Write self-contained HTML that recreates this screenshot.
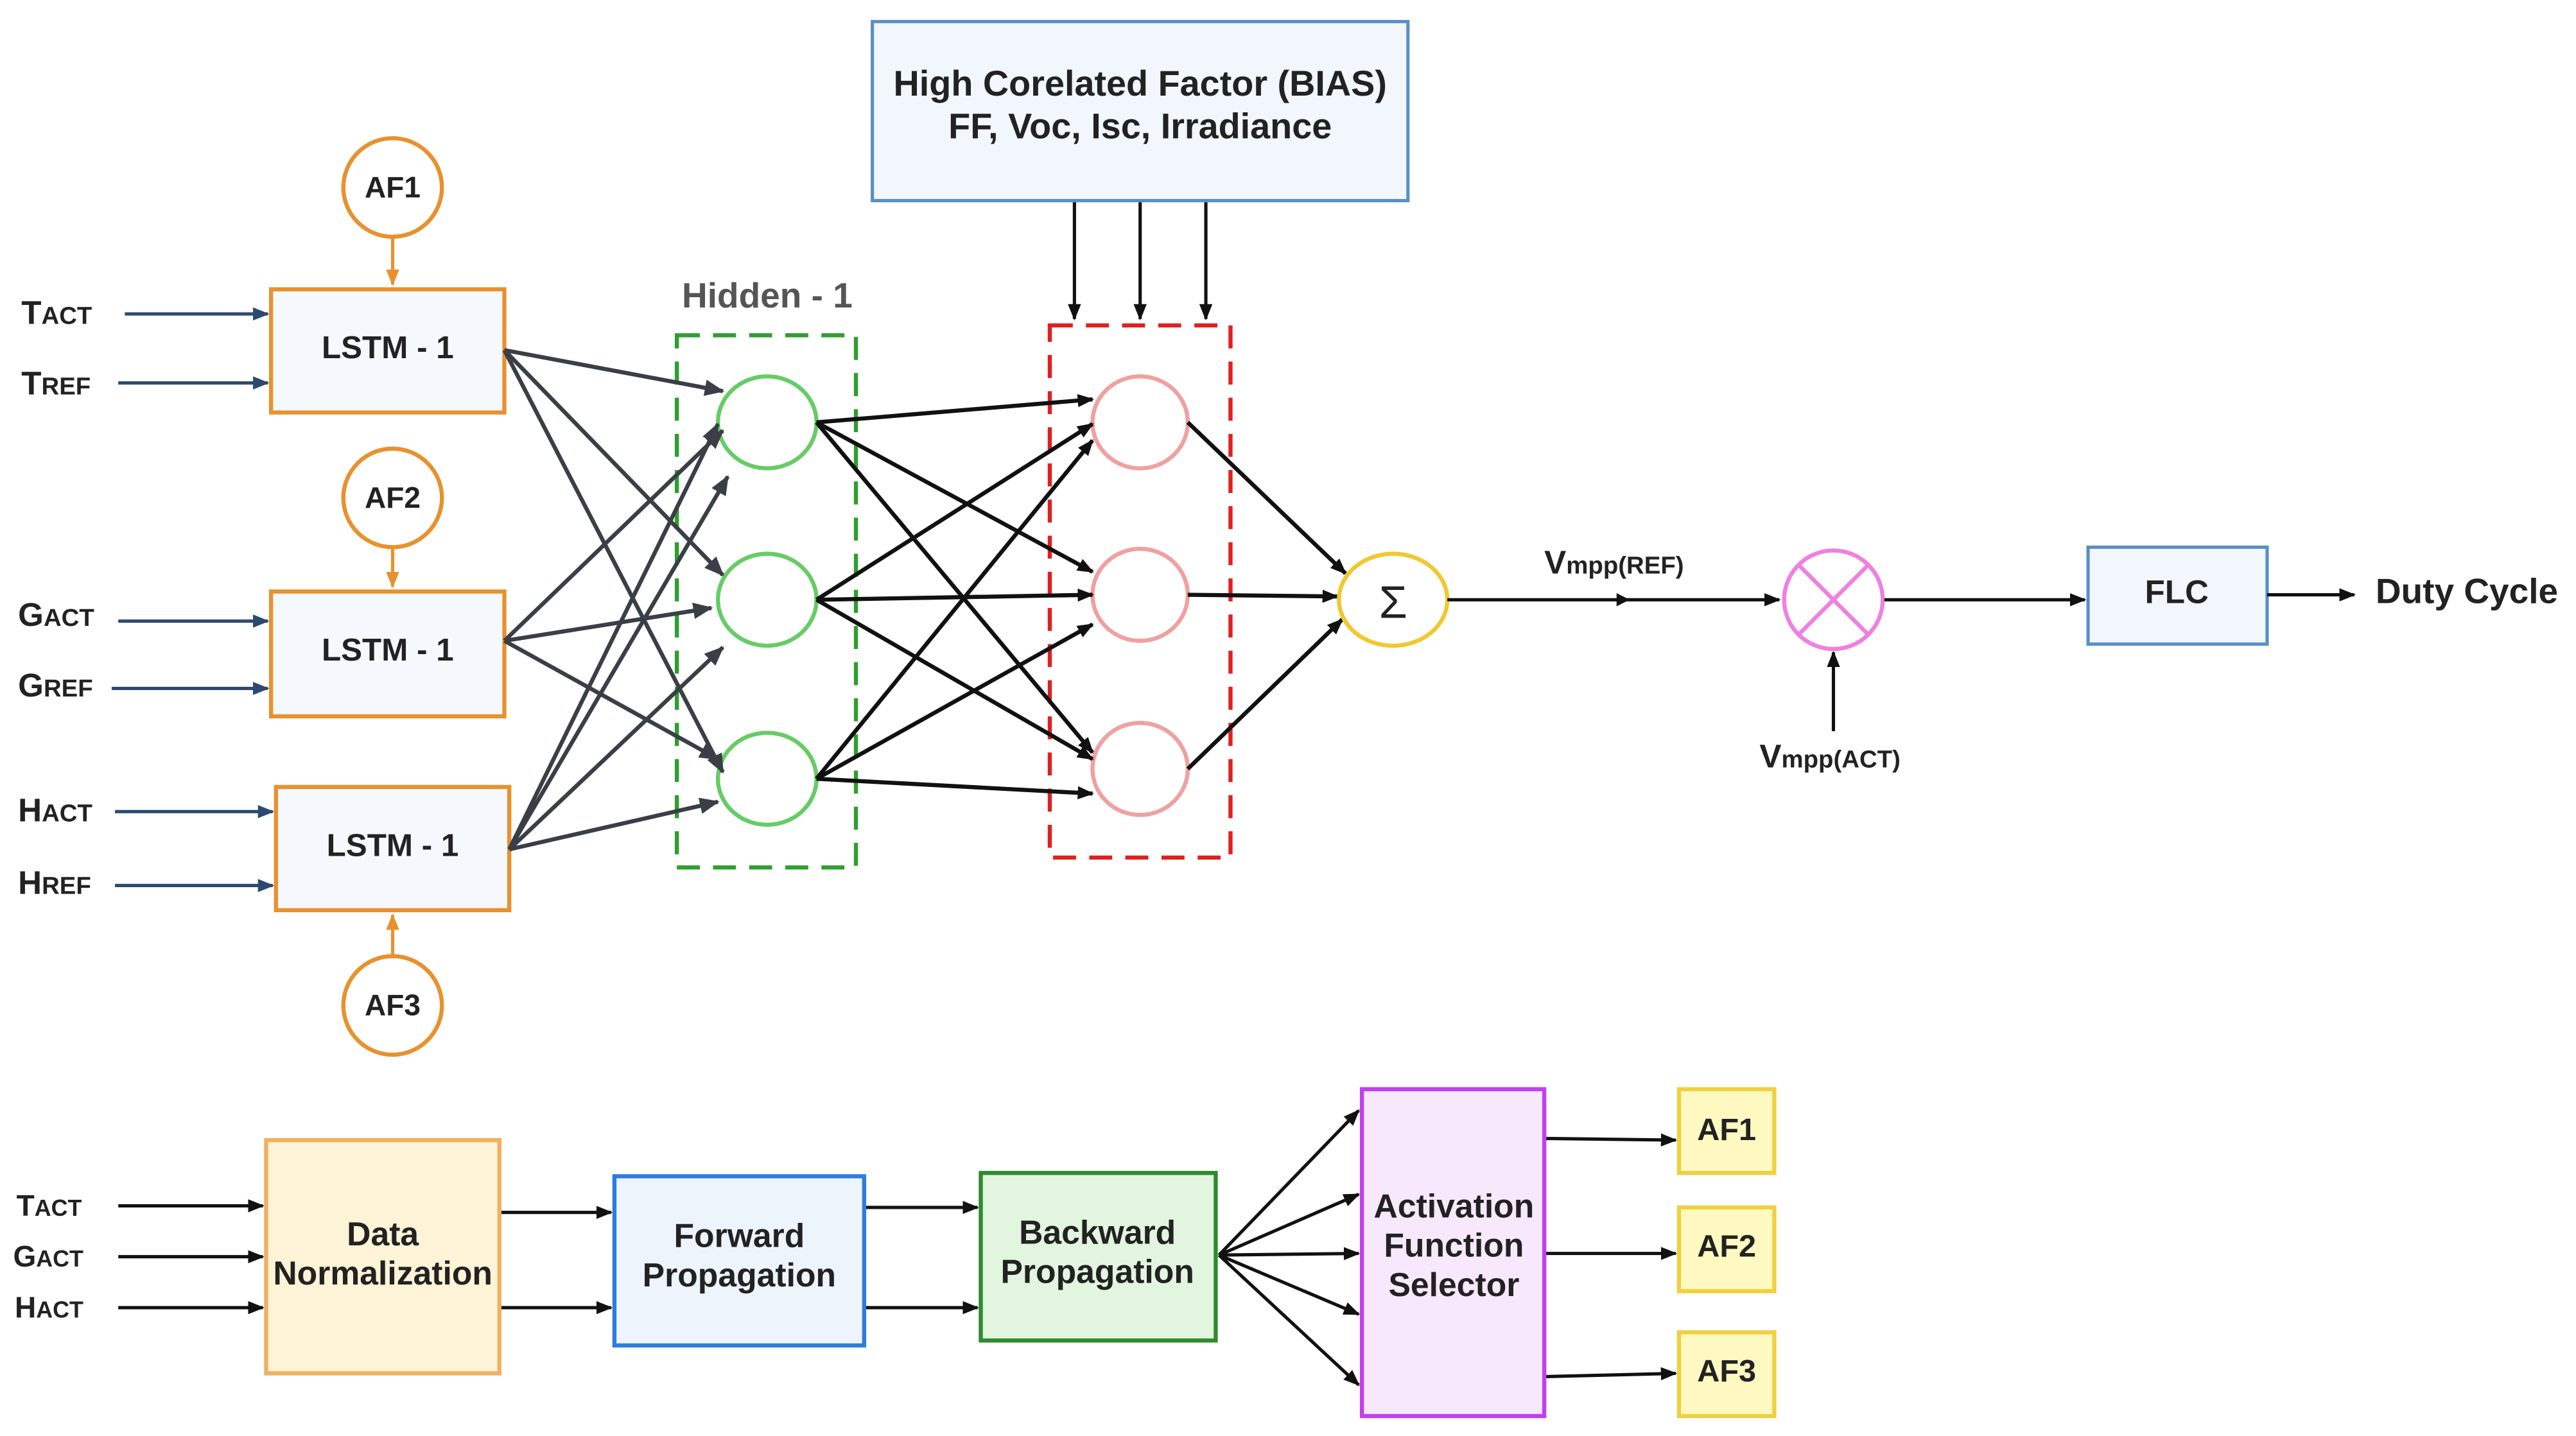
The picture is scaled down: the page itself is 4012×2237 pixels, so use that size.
<!DOCTYPE html>
<html><head><meta charset="utf-8"><style>
html,body{margin:0;padding:0;background:#fff;}
svg{display:block;}
text{font-family:"Liberation Sans",sans-serif;font-weight:bold;fill:#222;}
</style></head><body>
<svg width="4012" height="2237" viewBox="0 0 1568 874" xmlns="http://www.w3.org/2000/svg">
<defs>
<marker id="a" markerWidth="10" markerHeight="10" refX="9" refY="5" orient="auto" markerUnits="userSpaceOnUse"><path d="M0,1 L10,5 L0,9 z" fill="#111"/></marker>
<marker id="ag" markerWidth="12" markerHeight="12" refX="11" refY="6" orient="auto" markerUnits="userSpaceOnUse"><path d="M0,1 L12,6 L0,11 z" fill="#3a3f47"/></marker>
<marker id="ab" markerWidth="10" markerHeight="10" refX="9" refY="5" orient="auto" markerUnits="userSpaceOnUse"><path d="M0,1 L10,5 L0,9 z" fill="#2c4a6e"/></marker>
<marker id="ao" markerWidth="10" markerHeight="10" refX="9" refY="5" orient="auto" markerUnits="userSpaceOnUse"><path d="M0,1 L10,5 L0,9 z" fill="#e8912d"/></marker>
</defs>

<rect x="531" y="13" width="326" height="109" fill="#f1f7fd" stroke="#5a8fc4" stroke-width="2"/>
<text x="694" y="58" font-size="21.8" text-anchor="middle">High Corelated Factor (BIAS)</text>
<text x="694" y="84" font-size="21.8" text-anchor="middle">FF, Voc, Isc, Irradiance</text>
<g stroke="#111" stroke-width="2" marker-end="url(#a)">
<line x1="654" y1="123" x2="654" y2="194"/><line x1="694" y1="123" x2="694" y2="194"/><line x1="734" y1="123" x2="734" y2="194"/>
</g>

<g fill="#fff" stroke="#e8912d" stroke-width="2.5">
<circle cx="239" cy="114" r="30"/><circle cx="239" cy="303" r="30"/><circle cx="239" cy="612" r="30"/>
</g>
<text x="239" y="120" font-size="18" text-anchor="middle">AF1</text>
<text x="239" y="309" font-size="18" text-anchor="middle">AF2</text>
<text x="239" y="618" font-size="18" text-anchor="middle">AF3</text>
<g stroke="#e8912d" stroke-width="2" marker-end="url(#ao)">
<line x1="239" y1="144" x2="239" y2="173"/><line x1="239" y1="333" x2="239" y2="357"/><line x1="239" y1="582" x2="239" y2="557"/>
</g>

<g fill="#f5f9fd" stroke="#e8912d" stroke-width="2.5">
<rect x="165" y="176" width="142" height="75"/><rect x="165" y="360" width="142" height="76"/><rect x="168" y="479" width="142" height="75"/>
</g>
<text x="236" y="218" font-size="19.3" text-anchor="middle">LSTM - 1</text>
<text x="236" y="402" font-size="19.3" text-anchor="middle">LSTM - 1</text>
<text x="239" y="521" font-size="19.3" text-anchor="middle">LSTM - 1</text>

<g font-size="20">
<text x="13" y="197">T<tspan font-size="15">ACT</tspan></text>
<text x="13" y="240">T<tspan font-size="15">REF</tspan></text>
<text x="11" y="381">G<tspan font-size="15">ACT</tspan></text>
<text x="11" y="424">G<tspan font-size="15">REF</tspan></text>
<text x="11" y="500">H<tspan font-size="15">ACT</tspan></text>
<text x="11" y="544">H<tspan font-size="15">REF</tspan></text>
</g>
<g stroke="#2c4a6e" stroke-width="2" marker-end="url(#ab)">
<line x1="76" y1="191" x2="163" y2="191"/><line x1="72" y1="233" x2="163" y2="233"/>
<line x1="72" y1="378" x2="163" y2="378"/><line x1="68" y1="419" x2="163" y2="419"/>
<line x1="70" y1="494" x2="166" y2="494"/><line x1="70" y1="539" x2="166" y2="539"/>
</g>

<text x="467" y="187" font-size="21.5" text-anchor="middle" style="fill:#555">Hidden - 1</text>
<rect x="412" y="204" width="109" height="324" fill="none" stroke="#2e9e2e" stroke-width="2.5" stroke-dasharray="14,8"/>
<g fill="#fff" stroke="#66cc66" stroke-width="2.5">
<ellipse cx="467" cy="257" rx="30" ry="28"/><ellipse cx="467" cy="365" rx="30" ry="28"/><ellipse cx="467" cy="474" rx="30" ry="28"/>
</g>
<g stroke="#3a3f47" stroke-width="2.5" marker-end="url(#ag)">
<line x1="307" y1="213" x2="440" y2="238"/><line x1="307" y1="213" x2="440" y2="350"/><line x1="307" y1="213" x2="440" y2="470"/>
<line x1="307" y1="390" x2="440" y2="262"/><line x1="307" y1="390" x2="433" y2="370"/><line x1="307" y1="390" x2="437" y2="462"/>
<line x1="310" y1="517" x2="437" y2="258"/><line x1="310" y1="517" x2="443" y2="290"/><line x1="310" y1="517" x2="440" y2="394"/><line x1="310" y1="517" x2="437" y2="488"/>
</g>

<rect x="639" y="198" width="110" height="324" fill="none" stroke="#e02020" stroke-width="2.5" stroke-dasharray="14,8"/>
<g fill="#fff" stroke="#f0a0a0" stroke-width="2.5">
<ellipse cx="694" cy="257" rx="29" ry="28"/><ellipse cx="694" cy="362" rx="29" ry="28"/><ellipse cx="694" cy="468" rx="29" ry="28"/>
</g>
<g stroke="#111" stroke-width="2.5" marker-end="url(#a)">
<line x1="497" y1="257" x2="665" y2="243"/><line x1="497" y1="257" x2="665" y2="348"/><line x1="497" y1="257" x2="665" y2="458"/>
<line x1="497" y1="365" x2="665" y2="258"/><line x1="497" y1="365" x2="665" y2="362"/><line x1="497" y1="365" x2="665" y2="462"/>
<line x1="497" y1="474" x2="665" y2="268"/><line x1="497" y1="474" x2="665" y2="380"/><line x1="497" y1="474" x2="665" y2="483"/>
<line x1="723" y1="257" x2="819" y2="349"/><line x1="723" y1="362" x2="814" y2="363"/><line x1="723" y1="468" x2="817" y2="377"/>
</g>

<ellipse cx="848" cy="365" rx="33" ry="28" fill="#fff" stroke="#f0c830" stroke-width="2.5"/>
<text x="848" y="376" font-size="28" text-anchor="middle" style="font-weight:normal">Σ</text>
<line x1="881" y1="365" x2="1083" y2="365" stroke="#111" stroke-width="2" marker-end="url(#a)"/>
<path d="M984,361 L992,365 L984,369z" fill="#111"/>
<text x="940" y="349" font-size="20">V<tspan font-size="15">mpp(REF)</tspan></text>

<circle cx="1116" cy="365" r="30" fill="#fff" stroke="#f080e0" stroke-width="2.5"/>
<line x1="1095" y1="344" x2="1137" y2="386" stroke="#f080e0" stroke-width="2.5"/>
<line x1="1137" y1="344" x2="1095" y2="386" stroke="#f080e0" stroke-width="2.5"/>
<line x1="1116" y1="445" x2="1116" y2="397" stroke="#111" stroke-width="2" marker-end="url(#a)"/>
<text x="1071" y="467" font-size="20">V<tspan font-size="15">mpp(ACT)</tspan></text>
<line x1="1147" y1="365" x2="1269" y2="365" stroke="#111" stroke-width="2" marker-end="url(#a)"/>

<rect x="1271" y="333" width="109" height="59" fill="#f1f7fd" stroke="#5a8fc4" stroke-width="2"/>
<text x="1325" y="367" font-size="20" text-anchor="middle">FLC</text>
<line x1="1380" y1="362" x2="1433" y2="362" stroke="#111" stroke-width="2" marker-end="url(#a)"/>
<text x="1446" y="367" font-size="21.5">Duty Cycle</text>

<g font-size="18">
<text x="10" y="740">T<tspan font-size="14">ACT</tspan></text>
<text x="8" y="771">G<tspan font-size="14">ACT</tspan></text>
<text x="9" y="802">H<tspan font-size="14">ACT</tspan></text>
</g>
<g stroke="#111" stroke-width="2" marker-end="url(#a)">
<line x1="72" y1="734" x2="160" y2="734"/><line x1="72" y1="765" x2="160" y2="765"/><line x1="72" y1="796" x2="160" y2="796"/>
<line x1="304" y1="738" x2="372" y2="738"/><line x1="304" y1="796" x2="372" y2="796"/>
<line x1="526" y1="735" x2="595" y2="735"/><line x1="526" y1="796" x2="595" y2="796"/>
<line x1="742" y1="764" x2="827" y2="676"/><line x1="742" y1="764" x2="827" y2="727"/><line x1="742" y1="764" x2="827" y2="763"/><line x1="742" y1="764" x2="827" y2="800"/><line x1="742" y1="764" x2="827" y2="843"/>
<line x1="940" y1="693" x2="1020" y2="694"/><line x1="940" y1="763" x2="1020" y2="763"/><line x1="940" y1="838" x2="1020" y2="836"/>
</g>
<rect x="162" y="694" width="142" height="142" fill="#fdf3d6" stroke="#f0b060" stroke-width="2.5"/>
<text x="233" y="758" font-size="20.2" text-anchor="middle">Data</text>
<text x="233" y="782" font-size="20.2" text-anchor="middle">Normalization</text>
<rect x="374" y="716" width="152" height="103" fill="#eef4fc" stroke="#2d7de0" stroke-width="2.5"/>
<text x="450" y="759" font-size="20.2" text-anchor="middle">Forward</text>
<text x="450" y="783" font-size="20.2" text-anchor="middle">Propagation</text>
<rect x="597" y="714" width="143" height="102" fill="#e2f6df" stroke="#2e8b2e" stroke-width="2.5"/>
<text x="668" y="757" font-size="20.2" text-anchor="middle">Backward</text>
<text x="668" y="781" font-size="20.2" text-anchor="middle">Propagation</text>
<rect x="829" y="663" width="111" height="199" fill="#f8e8fc" stroke="#c040f0" stroke-width="2.5"/>
<text x="885" y="741" font-size="20.2" text-anchor="middle">Activation</text>
<text x="885" y="765" font-size="20.2" text-anchor="middle">Function</text>
<text x="885" y="789" font-size="20.2" text-anchor="middle">Selector</text>
<g fill="#fef9c0" stroke="#f0d040" stroke-width="2.5">
<rect x="1022" y="663" width="58" height="51"/><rect x="1022" y="735" width="58" height="51"/><rect x="1022" y="811" width="58" height="51"/>
</g>
<text x="1051" y="694" font-size="19" text-anchor="middle">AF1</text>
<text x="1051" y="765" font-size="19" text-anchor="middle">AF2</text>
<text x="1051" y="841" font-size="19" text-anchor="middle">AF3</text>
</svg>
</body></html>
